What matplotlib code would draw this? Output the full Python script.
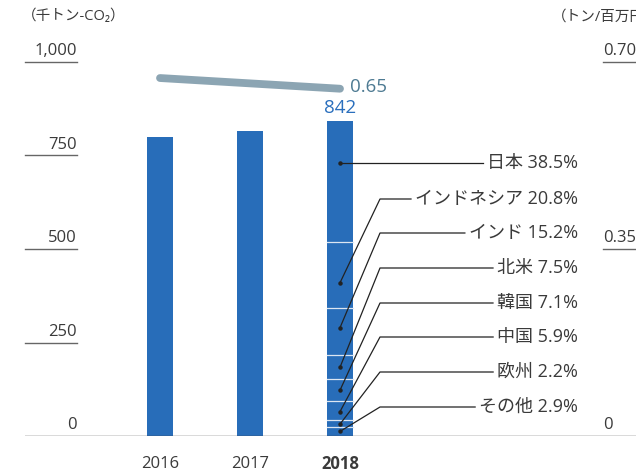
import matplotlib
matplotlib.use("Agg")
import matplotlib.pyplot as plt
import matplotlib.transforms as mtransforms
import numpy as np

FONTS = ['Open Sans', 'Noto Sans CJK JP', 'DejaVu Sans']
plt.rcParams['font.family'] = FONTS

# ---- data ----
years = ["2016", "2017", "2018"]
emissions = [800, 815, 842]              # 千トン-CO2
intensity = [0.67, 0.66, 0.65]           # トン/百万円
regions = ["その他", "欧州", "中国", "韓国", "北米", "インド", "インドネシア", "日本"]
shares = [2.9, 2.2, 5.9, 7.1, 7.5, 15.2, 20.8, 38.5]
left_ticks = [0, 250, 500, 750, 1000]
left_tick_labels = ["0", "250", "500", "750", "1,000"]
right_ticks = [0, 0.35, 0.70]
right_tick_labels = ["0", "0.35", "0.70"]

BAR = "#286db9"
LINE = "#8ca5b3"
TXT = "#3a3a3a"

W, H = 636, 475
fig = plt.figure(figsize=(W / 100, H / 100), dpi=100)
ax_l, ax_r, ax_b, ax_t = 25, 636, 436, 62
ax = fig.add_axes([ax_l / W, (H - ax_b) / H, (ax_r - ax_l) / W, (ax_b - ax_t) / H])
x0px, step = 160, 90.0
ax.set_xlim((ax_l - x0px) / step, (ax_r - x0px) / step)
ax.set_ylim(0, 1000)
for s in ax.spines.values():
    s.set_visible(False)
ax.set_xticks([])
ax.set_yticks([])
ax.axhline(0, color="#444444", lw=1.0, zorder=5)

xs = np.arange(len(years))
bw = 26 / step
# bars 2016, 2017
ax.bar(xs[:2], emissions[:2], width=bw, color=BAR, zorder=2)
# stacked 2018
total = emissions[2]
vals = [total * s / sum(shares) for s in shares]
bottom = 0
bounds = []
for v in vals:
    ax.bar(xs[2], v, width=bw, bottom=bottom, color=BAR, zorder=2)
    bounds.append((bottom, bottom + v))
    bottom += v
for (b0, b1) in bounds[:-1]:
    ax.plot([xs[2] - bw / 2, xs[2] + bw / 2], [b1, b1], color="#dce6f2", lw=0.9, zorder=3)

# value label
ax.annotate(str(emissions[2]), (xs[2], emissions[2]), xytext=(0, 3), textcoords="offset points",
            ha="center", va="bottom", fontsize=13.5, color="#2a6fbd")

# intensity line on right axis
ax2 = ax.twinx()
ax2.set_ylim(0, 0.70)
for s in ax2.spines.values():
    s.set_visible(False)
ax2.set_yticks([])
ax2.plot(xs, intensity, color=LINE, lw=5.6, solid_capstyle="round", zorder=4)
ax2.annotate(f"{intensity[2]:.2f}", (xs[2], intensity[2]), xytext=(7, 1), textcoords="offset points",
             ha="left", va="center", fontsize=13.5, color="#4d7a92")

# left ticks
tl = mtransforms.blended_transform_factory(ax.transAxes, ax.transData)
for v, lab in zip(left_ticks, left_tick_labels):
    if v != 0:
        ax.plot([0, 52 / 611], [v, v], transform=tl, color="#666666", lw=1.0, clip_on=False)
    ax.annotate(lab, (52 / 611, v), xycoords=tl, xytext=(0, 2), textcoords="offset points",
                ha="right", va="bottom", fontsize=12, color=TXT)
tr = mtransforms.blended_transform_factory(ax2.transAxes, ax2.transData)
for v, lab in zip(right_ticks, right_tick_labels):
    if v != 0:
        ax2.plot([578 / 611, 1], [v, v], transform=tr, color="#666666", lw=1.0, clip_on=False)
    ax2.annotate(lab, (578 / 611, v), xycoords=tr, xytext=(0, 2), textcoords="offset points",
                 ha="left", va="bottom", fontsize=12, color=TXT)

# unit labels
fig.text(22 / W, 1 - 17 / H, "（千トン-CO₂）", fontsize=10.5, color=TXT, ha="left", va="center")
fig.text(552 / W, 1 - 17 / H, "（トン/百万円）", fontsize=10.5, color=TXT, ha="left", va="center")

# x labels
for i, y in enumerate(years):
    ax.annotate(y, (xs[i], 0), xytext=(0, -20), textcoords="offset points", ha="center", va="center",
                fontsize=12, color=TXT, fontweight="bold" if i == 2 else "normal",
                annotation_clip=False)

# segment labels with leader lines
label_y_px = [407, 372, 337, 303, 268, 233, 199, 163]
dot_frac = [0.5, 0.4, 0.45, 0.5, 0.5, 0.58, 0.38, 0.67]
def py2v(p):
    return (ax_b - p) / (ax_b - ax_t) * 1000
label_x = (578 - x0px) / step
elbow_x = (380 - x0px) / step
fig.canvas.draw()
rend = fig.canvas.get_renderer()
for i, (r, s) in enumerate(zip(regions, shares)):
    ly = py2v(label_y_px[i])
    t = ax.text(label_x, ly, f"{r} {s}%", ha="right", va="center", fontsize=13, color=TXT, zorder=6)
    bb = t.get_window_extent(rend)
    left = ax.transData.inverted().transform((bb.x0 - 4, 0))[0]
    b0, b1 = bounds[i]
    dy = b0 + (b1 - b0) * dot_frac[i]
    if r == "日本":
        dy = ly
        ax.plot([xs[2], left], [dy, ly], color="#222222", lw=0.9, zorder=5)
    else:
        ax.plot([xs[2], elbow_x, left], [dy, ly, ly], color="#222222", lw=0.9, zorder=5)
    ax.plot([xs[2]], [dy], "o", color="#222222", ms=2.2, zorder=6)

fig.savefig("out.png", dpi=100)
